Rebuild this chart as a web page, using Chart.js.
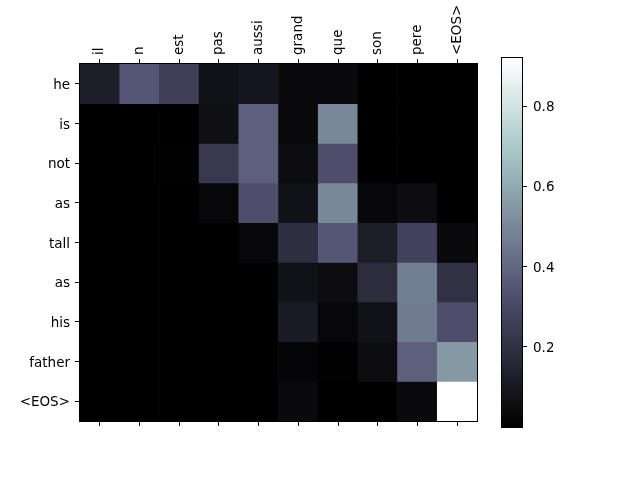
<!DOCTYPE html>
<html>
<head>
<meta charset="utf-8">
<script src="https://cdn.jsdelivr.net/npm/chart.js@4.4.1/dist/chart.umd.min.js"></script>
<style>
  html, body { margin: 0; padding: 0; background: #fff; }
  .layer { position: absolute; left: 0; top: 0; width: 640px; height: 480px; }
</style>
</head>
<body>
<div class="layer"><canvas id="heat" width="640" height="480"></canvas></div>
<div class="layer"><canvas id="cbar" width="640" height="480"></canvas></div>
<script>
// source (columns) and target (rows) tokens
const colLabels = ['il', 'n', 'est', 'pas', 'aussi', 'grand', 'que', 'son', 'pere', '<EOS>'];
const rowLabels = ['he', 'is', 'not', 'as', 'tall', 'as', 'his', 'father', '<EOS>'];

// attention weights, one array per output word
const weights = [
    [0.125, 0.35, 0.26, 0.07, 0.09, 0.04, 0.04, 0.0, 0.0, 0.0],
    [0.0, 0.0, 0.0, 0.06, 0.38, 0.04, 0.50, 0.0, 0.0, 0.0],
    [0.0, 0.0, 0.01, 0.23, 0.38, 0.05, 0.32, 0.0, 0.0, 0.0],
    [0.0, 0.0, 0.0, 0.03, 0.32, 0.07, 0.50, 0.03, 0.05, 0.0],
    [0.0, 0.0, 0.0, 0.0, 0.03, 0.19, 0.35, 0.12, 0.27, 0.04],
    [0.0, 0.0, 0.0, 0.0, 0.0, 0.07, 0.05, 0.18, 0.47, 0.20],
    [0.0, 0.0, 0.0, 0.0, 0.0, 0.11, 0.03, 0.07, 0.46, 0.32],
    [0.0, 0.0, 0.0, 0.0, 0.0, 0.02, 0.005, 0.05, 0.38, 0.55],
    [0.0, 0.0, 0.0, 0.0, 0.0, 0.04, 0.0, 0.0, 0.04, 0.92]
];
const cbarTicks = [0.2, 0.4, 0.6, 0.8];

const vmin = Math.min(...weights.flat());
const vmax = Math.max(...weights.flat());
const FONT = { family: 'DejaVu Sans', size: 13.5 };

// matplotlib "bone" colormap
function bone(v) {
    let t = Math.max(0, Math.min(1, (v - vmin) / (vmax - vmin)));
    let r = t < 0.746032 ? t * 0.652778 / 0.746032 : 0.652778 + (t - 0.746032) * 0.347222 / 0.253968;
    let g;
    if (t < 0.365079) g = t * 0.319444 / 0.365079;
    else if (t < 0.746032) g = 0.319444 + (t - 0.365079) * 0.458334 / 0.380953;
    else g = 0.777778 + (t - 0.746032) * 0.222222 / 0.253968;
    let b = t < 0.365079 ? t * 0.444444 / 0.365079 : 0.444444 + (t - 0.365079) * 0.555556 / 0.634921;
    return `rgb(${Math.round(r * 255)},${Math.round(g * 255)},${Math.round(b * 255)})`;
}

// black frame round the plot area
const frame = {
    id: 'frame',
    afterDraw(chart) {
        const a = chart.chartArea;
        const c = chart.ctx;
        c.save();
        c.strokeStyle = '#000';
        c.lineWidth = 1;
        c.strokeRect(Math.round(a.left) - 0.5, Math.round(a.top) - 0.5, Math.round(a.right - a.left) + 1, Math.round(a.bottom - a.top) + 1);
        c.restore();
    }
};

// --- HEATMAP ---
const heatSets = weights.map((row, r) => ({
    label: rowLabels[r],
    data: row.map(() => [r - 0.5, r + 0.5]),
    backgroundColor: row.map(v => bone(v)),
    borderWidth: 0,
    grouped: false,
    barPercentage: 1,
    categoryPercentage: 1
}));

new Chart(document.getElementById('heat'), {
    type: 'bar',
    data: { labels: colLabels, datasets: heatSets },
    options: {
        responsive: false,
        animation: false,
        layout: { padding: { right: 163 } },
        plugins: { legend: { display: false }, tooltip: { enabled: false } },
        scales: {
            x: {
                position: 'top',
                grid: { offset: false, drawOnChartArea: false, tickLength: 5, color: '#000' },
                border: { display: false },
                // rotated labels on a top axis sit one line height left of the tick
                ticks: { color: '#000', font: FONT, minRotation: 90, maxRotation: 90, padding: 4, labelOffset: 16.2 },
                afterFit: s => { s.height = 64; }
            },
            xb: {
                type: 'category',
                labels: colLabels,
                position: 'bottom',
                grid: { offset: false, drawOnChartArea: false, tickLength: 5, color: '#000' },
                border: { display: false },
                ticks: { display: false },
                afterFit: s => { s.height = 59; }
            },
            y: {
                type: 'linear',
                reverse: true,
                min: -0.5,
                max: rowLabels.length - 0.5,
                grid: { drawOnChartArea: false, tickLength: 5, color: '#000' },
                border: { display: false },
                afterBuildTicks: s => { s.ticks = rowLabels.map((_, i) => ({ value: i })); },
                ticks: { color: '#000', font: FONT, padding: 5, labelOffset: 1.5, callback: v => rowLabels[v] },
                afterFit: s => { s.width = 80; }
            }
        }
    },
    plugins: [frame]
});

// --- COLORBAR ---
new Chart(document.getElementById('cbar'), {
    type: 'bar',
    data: {
        labels: [''],
        datasets: [{
            data: [[vmin, vmax]],
            borderWidth: 0,
            barPercentage: 1,
            categoryPercentage: 1,
            backgroundColor: ctx => {
                const a = ctx.chart.chartArea;
                if (!a) return '#000';
                const g = ctx.chart.ctx.createLinearGradient(0, a.bottom, 0, a.top);
                for (let i = 0; i <= 40; i++) {
                    g.addColorStop(i / 40, bone(vmin + (vmax - vmin) * i / 40));
                }
                return g;
            }
        }]
    },
    options: {
        responsive: false,
        animation: false,
        layout: { padding: { left: 502, top: 58, bottom: 53 } },
        plugins: { legend: { display: false }, tooltip: { enabled: false } },
        scales: {
            x: { display: false },
            y: {
                position: 'right',
                min: vmin,
                max: vmax,
                grid: { drawOnChartArea: false, tickLength: 5, color: '#000' },
                border: { display: false },
                afterBuildTicks: s => { s.ticks = cbarTicks.map(v => ({ value: v })); },
                ticks: { color: '#000', font: FONT, padding: 6, labelOffset: 1.5, callback: v => v.toFixed(1) },
                afterFit: s => { s.width = 118; }
            }
        }
    },
    plugins: [frame]
});
</script>
</body>
</html>
